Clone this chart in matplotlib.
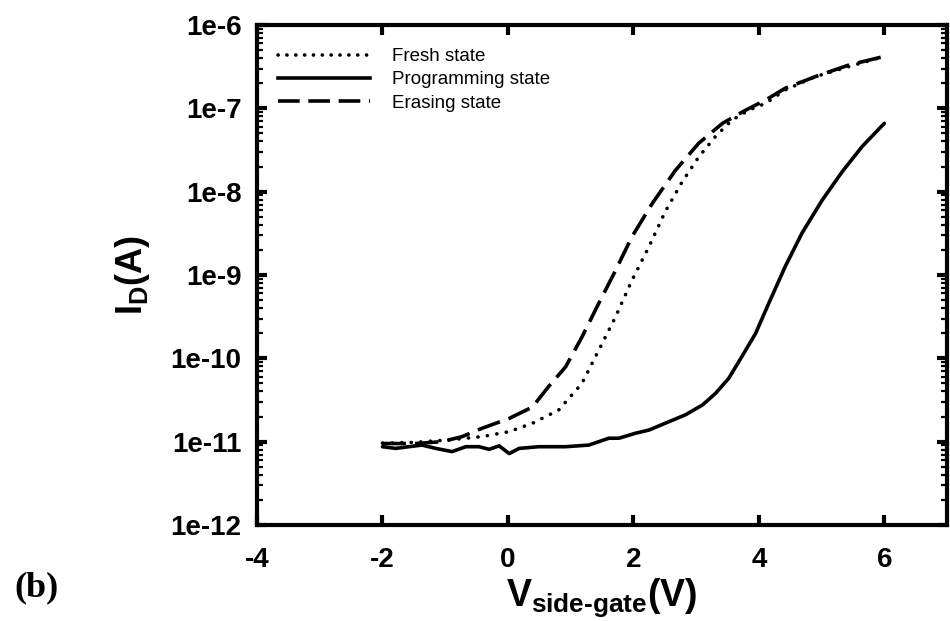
import math
import matplotlib
matplotlib.use("Agg")
import matplotlib.pyplot as plt
from matplotlib.lines import Line2D
from matplotlib.ticker import FixedLocator, LogLocator, FuncFormatter, NullFormatter

plt.rcParams['font.family'] = ['Liberation Sans', 'DejaVu Sans']
plt.rcParams['mathtext.fontset'] = 'custom'
plt.rcParams['mathtext.rm'] = 'Liberation Sans:bold'
plt.rcParams['mathtext.it'] = 'Liberation Sans:bold'
plt.rcParams['mathtext.bf'] = 'Liberation Sans:bold'

# Transfer curves I_D vs V_side-gate
v_fresh = [-2.0, -1.5, -0.94, -0.41, 0.02, 0.39, 0.81, 1.18, 1.45, 1.72, 1.98,
           2.25, 2.51, 2.78, 3.04, 3.31, 3.57, 3.84, 4.11, 4.42, 4.90, 5.43, 6.0]
i_fresh = [9.6e-12, 9.8e-12, 1.05e-11, 1.15e-11, 1.32e-11, 1.66e-11, 2.4e-11, 5.0e-11,
           1.26e-10, 3.2e-10, 8.7e-10, 2.2e-9, 5.8e-9, 1.32e-8, 2.6e-8, 4.6e-8,
           7.2e-8, 9.5e-8, 1.15e-7, 1.66e-7, 2.4e-7, 3.16e-7, 4.2e-7]

v_prog = [-2.0, -1.79, -1.58, -1.37, -1.15, -0.89, -0.67, -0.46, -0.30, -0.14, 0.02,
          0.18, 0.49, 0.92, 1.29, 1.61, 1.77, 2.03, 2.25, 2.57, 2.83, 3.10, 3.31,
          3.52, 3.73, 3.95, 4.16, 4.42, 4.69, 5.01, 5.33, 5.65, 6.0]
i_prog = [8.7e-12, 8.3e-12, 8.7e-12, 9.1e-12, 8.3e-12, 7.6e-12, 8.7e-12, 8.7e-12,
          8.1e-12, 8.9e-12, 7.2e-12, 8.3e-12, 8.7e-12, 8.7e-12, 9.1e-12, 1.1e-11,
          1.1e-11, 1.26e-11, 1.38e-11, 1.74e-11, 2.1e-11, 2.75e-11, 3.8e-11,
          5.75e-11, 1.05e-10, 2.0e-10, 4.6e-10, 1.26e-9, 3.2e-9, 7.9e-9, 1.74e-8,
          3.5e-8, 6.6e-8]

v_erase = [-2.0, -1.47, -1.05, -0.73, -0.41, 0.02, 0.39, 0.65, 0.92, 1.18, 1.45,
           1.72, 1.98, 2.30, 2.67, 3.04, 3.42, 3.79, 4.11, 4.42, 4.90, 5.43, 6.0]
i_erase = [9.5e-12, 9.5e-12, 1.0e-11, 1.15e-11, 1.45e-11, 1.9e-11, 2.6e-11, 4.6e-11,
           7.9e-11, 1.8e-10, 4.6e-10, 1.15e-9, 2.9e-9, 7.2e-9, 1.8e-8, 3.8e-8,
           6.6e-8, 9.5e-8, 1.26e-7, 1.74e-7, 2.4e-7, 3.3e-7, 4.2e-7]

series_labels = ['Fresh state', 'Programming state', 'Erasing state']
x_ticks = [-4, -2, 0, 2, 4, 6]
y_ticks = [1e-12, 1e-11, 1e-10, 1e-9, 1e-8, 1e-7, 1e-6]

LW = 2.6
dot_style = (0, (0.05, 2.6))
dash_style = (0, (6.5, 2.5))

fig = plt.figure(figsize=(9.5, 6.21), dpi=100)
ax = fig.add_axes([257 / 950, 96 / 621, 690 / 950, 500 / 621])

ax.plot(v_fresh, i_fresh, color='black', lw=LW, linestyle=dot_style,
        dash_capstyle='round')
ax.plot(v_prog, i_prog, color='black', lw=LW, linestyle='-',
        solid_capstyle='round', solid_joinstyle='round')
ax.plot(v_erase, i_erase, color='black', lw=LW, linestyle=dash_style,
        dash_capstyle='butt')

ax.set_yscale('log')
ax.set_xlim(-4, 7)
ax.set_ylim(1e-12, 1e-6)

ax.xaxis.set_major_locator(FixedLocator(x_ticks))
ax.xaxis.set_major_formatter(FuncFormatter(lambda v, p: '%d' % v))
ax.yaxis.set_major_locator(FixedLocator(y_ticks))
ax.yaxis.set_minor_locator(LogLocator(base=10, subs=range(2, 10), numticks=20))
ax.yaxis.set_minor_formatter(NullFormatter())
ax.yaxis.set_major_formatter(FuncFormatter(lambda v, p: '1e%d' % round(math.log10(v))))

for s in ax.spines.values():
    s.set_linewidth(3.0)

ax.tick_params(axis='both', which='major', direction='in', length=7, width=3,
               top=True, right=True, labelsize=20)
ax.tick_params(axis='y', which='minor', direction='in', length=4, width=1.6,
               left=True, right=True)
ax.tick_params(axis='x', which='major', pad=16)
ax.tick_params(axis='y', which='major', pad=11)
for lab in ax.get_xticklabels() + ax.get_yticklabels():
    lab.set_fontweight('bold')

fig.text(133 / 950, 1 - 275 / 621, r'$I_D(A)$', rotation=90,
         ha='center', va='center', fontsize=26)
fig.text(602 / 950, 1 - 598 / 621, r'$V_{side\text{-}gate}(V)$',
         ha='center', va='center', fontsize=27)
fig.text(36 / 950, 1 - 588 / 621, '(b)', family='Liberation Serif',
         fontweight='bold', fontsize=26, ha='center', va='center')

handles = [
    Line2D([], [], color='black', lw=LW, linestyle=(0, (0.05, 2.4)),
           dash_capstyle='round'),
    Line2D([], [], color='black', lw=LW, linestyle='-'),
    Line2D([], [], color='black', lw=LW, linestyle=(0, (6.0, 2.4)),
           dash_capstyle='butt'),
]
ax.legend(handles, series_labels, loc='upper left', bbox_to_anchor=(0.03, 0.954),
          frameon=False, fontsize=13.5, handlelength=4.9, handletextpad=1.17,
          labelspacing=0.33, borderaxespad=0, borderpad=0)

fig.savefig('out.png', dpi=100)
